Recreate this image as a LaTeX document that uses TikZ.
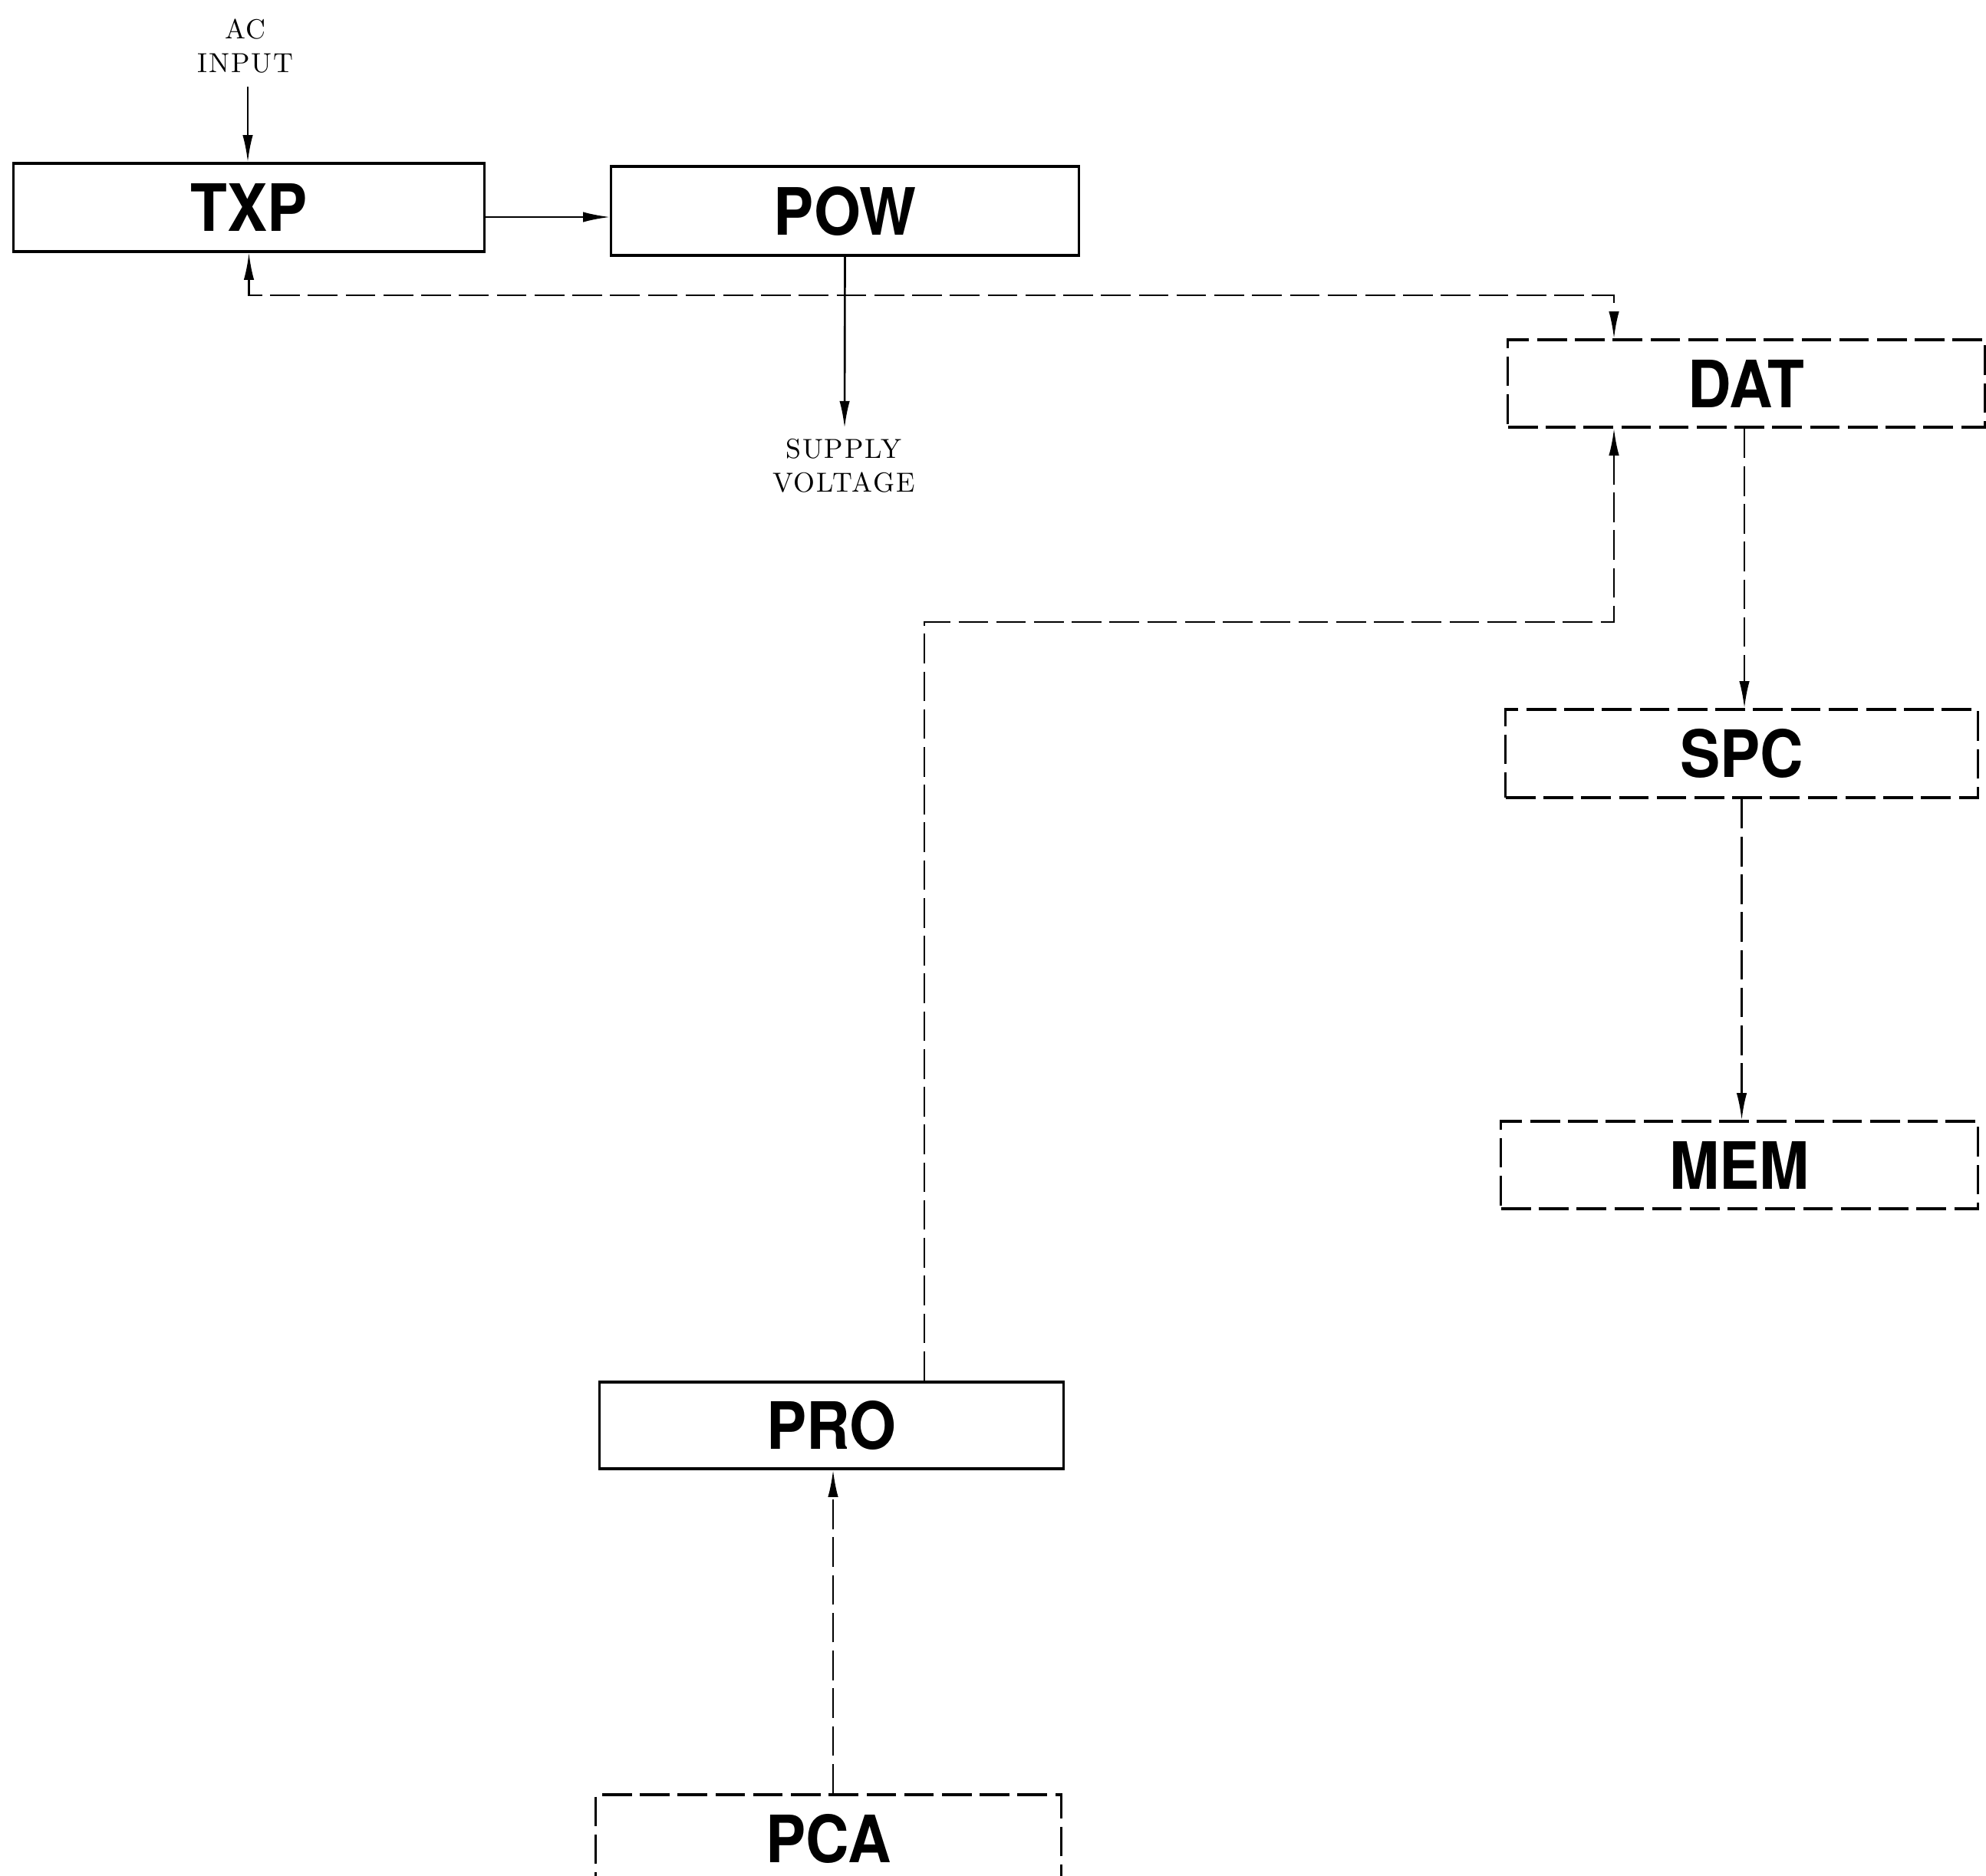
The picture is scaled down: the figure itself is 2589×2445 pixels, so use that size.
\documentclass[tikz,border=0pt]{standalone}
\usepackage{fontspec}
\usetikzlibrary{arrows.meta,calc}
\newfontfamily\boxfont{TeX Gyre Heros}[FakeStretch=0.92]
\newfontfamily\lblfont{Latin Modern Roman}[LetterSpace=5]
\tikzset{
  blk/.style={draw, line width=0.9pt, inner sep=0pt,
    font=\boxfont\bfseries\fontsize{24.2}{28}\selectfont},
  dblk/.style={blk, dash pattern=on 11pt off 3pt},
  lbl/.style={align=center, inner sep=0pt,
    font=\lblfont\fontsize{10.2}{12.5}\selectfont},
  sline/.style={line width=0.75pt},
  dline/.style={line width=0.75pt, dash pattern=on 11pt off 3pt},
  tip/.style={-{Latex[length=10pt,width=3.8pt]}},
  dtip/.style={{Latex[length=10pt,width=3.8pt]}-{Latex[length=10pt,width=3.8pt]}},
}
\begin{document}
\begin{tikzpicture}[x=0.01cm,y=-0.01cm]
\useasboundingbox (0,0) rectangle (2589,2445);
\clip (0,0) rectangle (2589,2445);
% blocks
\node[blk, minimum width=6.13cm, minimum height=1.15cm] (TXP) at (324.5,270.5) {TXP};
\node[blk, minimum width=6.09cm, minimum height=1.16cm] (POW) at (1101.5,275) {POW};
\node[dblk, minimum width=6.21cm, minimum height=1.14cm] (DAT) at (2276.5,500) {DAT};
\node[dblk, minimum width=6.15cm, minimum height=1.15cm] (SPC) at (2270.5,982.5) {SPC};
\node[dblk, minimum width=6.21cm, minimum height=1.14cm] (MEM) at (2267.5,1519) {MEM};
\node[blk, minimum width=6.04cm, minimum height=1.13cm] (PRO) at (1084,1858.5) {PRO};
\node[dblk, minimum width=6.06cm, minimum height=1.14cm] (PCA) at (1080,2397) {PCA};
% labels
\node[lbl] (aclbl) at (320,60) {AC\\INPUT};
\node[lbl] (svlbl) at (1100,607) {SUPPLY\\VOLTAGE};
% helper coordinates
\coordinate (acin) at (323,113);
\coordinate (t1) at (631,283);
\coordinate (sv) at (1101,558);
\coordinate (j1) at (2104,385);
\coordinate (j2) at (1205,811);
\coordinate (j3) at (2104,811);
\coordinate (k1) at (2274,700);
\coordinate (k2) at (1086,2100);
% connectors
\draw[sline,tip] (acin) -- (acin |- TXP.north);
\draw[sline,tip] (TXP.east |- t1) -- (t1 -| POW.west);
\draw[sline,tip] (POW.south) -- (sv);
\draw[dline,dtip] (TXP.south) |- (j1) -- (j1 |- DAT.north);
\draw[dline,tip] (j2 |- PRO.north) -- (j2) -- (j3) -- (j3 |- DAT.south);
\draw[dline,tip] (k1 |- DAT.south) -- (k1 |- SPC.north);
\draw[dline,tip] (SPC.south) -- (SPC.south |- MEM.north);
\draw[dline,tip] (k2 |- PCA.north) -- (k2 |- PRO.south);
\end{tikzpicture}
\end{document}
